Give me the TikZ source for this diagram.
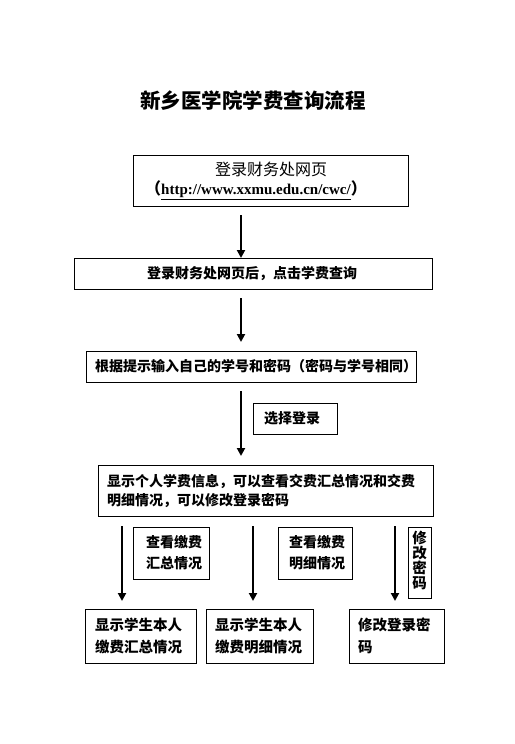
\documentclass[tikz,border=0pt]{standalone}
\usepackage{fontspec}
\setmainfont{Liberation Serif}
\newfontfamily\cjk{Noto Sans CJK SC}
\usetikzlibrary{arrows.meta}
\begin{document}
\begin{tikzpicture}[x=1pt,y=-1pt,
  box/.style={draw, line width=0.9pt, inner sep=0pt},
  txt/.style={font=\cjk\bfseries\fontsize{14}{19}\selectfont, inner sep=0pt},
  flow/.style={line width=2.6pt, -{Triangle[width=8pt,length=8pt]}}]
\useasboundingbox (0,0) rectangle (514,744);
\node[txt, font=\cjk\bfseries\fontsize{20.5}{22}\selectfont] (title) at (253,101) {新乡医学院学费查询流程};
% box 1
\draw[box] (133,155) rectangle (408,206);
\node[txt, font=\cjk\fontsize{16}{18}\selectfont] (b1a) at (271,169) {登录财务处网页};
\node[txt] (b1b) at (256,190) {{\cjk\fontsize{16}{18}\selectfont （}{\rmfamily\fontsize{15}{18}\selectfont\bfseries\underline{http://www.xxmu.edu.cn/cwc/}}{\cjk\fontsize{16}{18}\selectfont ）}};
\coordinate (a1s) at (241,215); \coordinate (a1e) at (241,258);
\draw[flow] (a1s) -- (a1e);
% box 2
\draw[box] (74,258) rectangle (432,289);
\node[txt] (b2) at (252,273.5) {登录财务处网页后，点击学费查询};
\coordinate (a2s) at (241,298); \coordinate (a2e) at (241,342);
\draw[flow] (a2s) -- (a2e);
% box 3
\draw[box] (86,351) rectangle (416,382);
\node[txt, anchor=west] (b3) at (95,366.5) {根据提示输入自己的学号和密码（密码与学号相同）};
\coordinate (a3s) at (241,391); \coordinate (a3e) at (241,456);
\draw[flow] (a3s) -- (a3e);
\draw[box] (253,403) rectangle (337,434);
\node[txt] (l3) at (292,418.5) {选择登录};
% box 4
\draw[box] (98,465) rectangle (433,516);
\node[txt, align=left, anchor=west] (b4) at (107,490.5) {显示个人学费信息，可以查看交费汇总情况和交费\\明细情况，可以修改登录密码};
% bottom arrows
\coordinate (c1s) at (122,526); \coordinate (c1e) at (122,601);
\coordinate (c2s) at (253,526); \coordinate (c2e) at (253,601);
\coordinate (c3s) at (395,526); \coordinate (c3e) at (395,601);
\draw[flow] (c1s) -- (c1e);
\draw[flow] (c2s) -- (c2e);
\draw[flow] (c3s) -- (c3e);
% labels
\draw[box] (133,527) rectangle (209,579);
\node[txt, align=center, font=\cjk\bfseries\fontsize{14}{21}\selectfont] (l1) at (174,553) {查看缴费\\汇总情况};
\draw[box] (278,527) rectangle (352,579);
\node[txt, align=center, font=\cjk\bfseries\fontsize{14}{21}\selectfont] (l2) at (317,553) {查看缴费\\明细情况};
\draw[box] (408,527) rectangle (431,598);
\node[txt, align=center, font=\cjk\bfseries\fontsize{14.5}{15}\selectfont] (l3b) at (419.5,560) {修\\改\\密\\码};
% bottom boxes
\draw[box] (85,609) rectangle (196,663);
\node[txt, align=left, anchor=west, font=\cjk\bfseries\fontsize{14.5}{22}\selectfont] (r1) at (95,636) {显示学生本人\\缴费汇总情况};
\draw[box] (206,609) rectangle (313,663);
\node[txt, align=left, anchor=west, font=\cjk\bfseries\fontsize{14.5}{22}\selectfont] (r2) at (215,636) {显示学生本人\\缴费明细情况};
\draw[box] (349,609) rectangle (444,663);
\node[txt, align=left, anchor=west, font=\cjk\bfseries\fontsize{14.5}{22}\selectfont] (r3) at (358,636) {修改登录密\\码};
\end{tikzpicture}
\end{document}
